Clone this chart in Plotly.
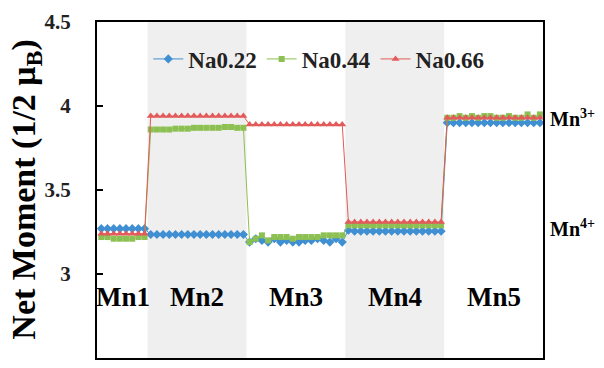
import plotly.graph_objects as go

# Net moment per Mn site along each sublattice block (8 + 16 + 16 + 16 + 16 sites)
na022 = ([3.27] * 8
         + [3.235] * 16
         + [3.19, 3.21, 3.20, 3.19, 3.21, 3.19, 3.20, 3.19, 3.19, 3.20, 3.20, 3.21, 3.20, 3.19, 3.21, 3.19]
         + [3.26, 3.255, 3.255, 3.255, 3.255, 3.255, 3.255, 3.255, 3.255, 3.255, 3.255, 3.255, 3.255, 3.255, 3.255, 3.255]
         + [3.90] * 16)
na044 = ([3.22, 3.22, 3.21, 3.21, 3.21, 3.21, 3.22, 3.22]
         + [3.86, 3.86, 3.86, 3.86, 3.865, 3.865, 3.865, 3.87, 3.87, 3.87, 3.87, 3.87, 3.875, 3.875, 3.87, 3.87]
         + [3.19, 3.21, 3.23, 3.20, 3.22, 3.22, 3.22, 3.21, 3.22, 3.22, 3.22, 3.22, 3.23, 3.23, 3.23, 3.23]
         + [3.29] * 16
         + [3.93, 3.93, 3.94, 3.93, 3.94, 3.93, 3.94, 3.94, 3.93, 3.93, 3.94, 3.93, 3.93, 3.95, 3.93, 3.95])
na066 = ([3.24] * 8
         + [3.94] * 16
         + [3.89] * 16
         + [3.31] * 16
         + [3.93] * 16)

site_labels = ["Mn1", "Mn2", "Mn3", "Mn4", "Mn5"]
block_sizes = [8, 16, 16, 16, 16]
y_ticks = [2.5, 3, 3.5, 4, 4.5]

series = [
    ("Na0.22", na022, "#3F8FD2", "diamond"),
    ("Na0.44", na044, "#8DC052", "square"),
    ("Na0.66", na066, "#E35A5A", "triangle-up"),
]

FONT = "Liberation Serif, Times New Roman, serif"
fig = go.Figure()

# shaded bands behind the Mn2 and Mn4 blocks
starts = [sum(block_sizes[:i]) for i in range(len(block_sizes))]
for i in (1, 3):
    fig.add_shape(type="rect", xref="x", yref="paper",
                  x0=starts[i] - 0.5, x1=starts[i] + block_sizes[i] - 0.5,
                  y0=0, y1=1, fillcolor="#EFEFEF", line_width=0, layer="below")

x = list(range(sum(block_sizes)))
for name, vals, color, sym in series:
    fig.add_trace(go.Scatter(
        x=x, y=vals, name=name, mode="lines+markers",
        line=dict(color=color, width=1),
        marker=dict(symbol=sym, size=7 if sym != "square" else 6, color=color),
    ))

# block labels
for lab, s, n in zip(site_labels, starts, block_sizes):
    fig.add_annotation(x=s + (n - 1) / 2, y=2.865, text="<b>%s</b>" % lab, showarrow=False,
                       font=dict(family=FONT, size=27, color="black"))

# valence markers on the right
fig.add_annotation(xref="paper", yref="y", x=1.012, y=3.93, xanchor="left",
                   text="<b>Mn<sup>3+</sup></b>", showarrow=False,
                   font=dict(family=FONT, size=20, color="black"))
fig.add_annotation(xref="paper", yref="y", x=1.012, y=3.275, xanchor="left",
                   text="<b>Mn<sup>4+</sup></b>", showarrow=False,
                   font=dict(family=FONT, size=20, color="black"))

# y-axis title
fig.add_annotation(xref="paper", yref="paper", x=-0.16, y=0.5, textangle=-90,
                   text="<b>Net Moment (1/2 μ<sub>B</sub>)</b>", showarrow=False,
                   xanchor="center", yanchor="middle",
                   font=dict(family=FONT, size=34, color="black"))

fig.update_layout(
    width=604, height=368,
    margin=dict(l=97, r=61, t=20, b=10),
    paper_bgcolor="white", plot_bgcolor="white",
    showlegend=True,
    legend=dict(orientation="h", x=0.115, y=0.89, yanchor="middle", xanchor="left",
                bgcolor="rgba(0,0,0,0)",
                font=dict(family=FONT, size=23, color="#222", weight="bold")),
)
fig.update_xaxes(range=[-0.7, sum(block_sizes) - 0.5], showticklabels=False, ticks="",
                 showgrid=False, zeroline=False, showline=True, linecolor="black",
                 linewidth=2, mirror=True)
fig.update_yaxes(range=[2.5, 4.5], tickvals=y_ticks,
                 ticktext=["<b>2.5</b>", "<b>3</b>", "<b>3.5</b>", "<b>4</b>", "<b>4.5</b>"],
                 ticks="inside", ticklen=6, tickwidth=2, tickcolor="black",
                 ticklabelstandoff=20,
                 showgrid=False, zeroline=False, showline=True, linecolor="black",
                 linewidth=2, mirror=True,
                 tickfont=dict(family=FONT, size=21, color="#222"))

fig.write_html("out.html")
